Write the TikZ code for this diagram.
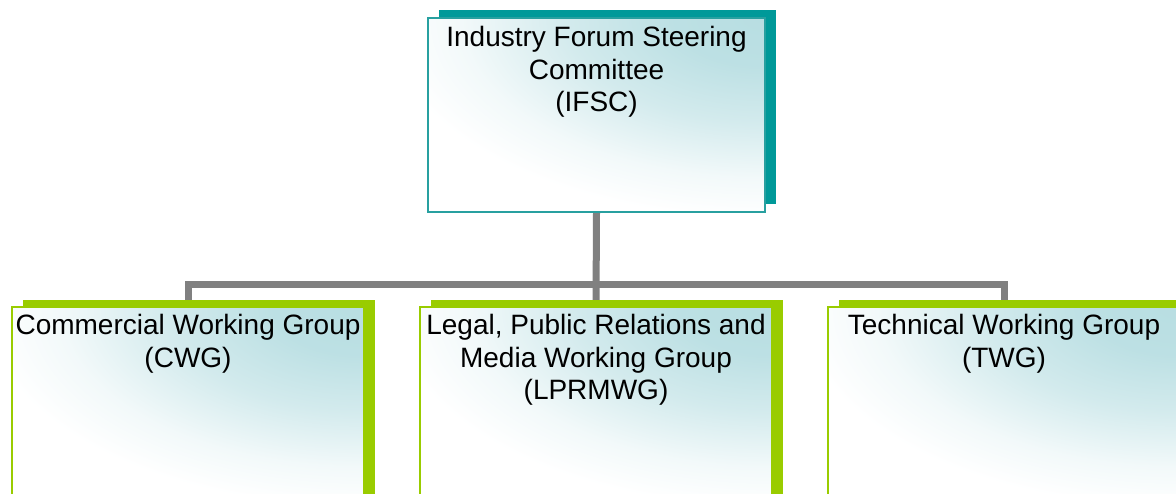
\documentclass[tikz,border=0pt]{standalone}
\usepackage{fontspec}
\setmainfont{Liberation Sans}
\usetikzlibrary{shadows}
\definecolor{shadowteal}{RGB}{0,153,153}
\definecolor{edgeteal}{RGB}{40,160,160}
\definecolor{leafgreen}{RGB}{153,204,0}
\definecolor{glow}{RGB}{184,222,226}
\definecolor{linkgray}{RGB}{128,128,128}
% soft tint spreading from the top right corner of each box;
% the tint is gone well inside the rim of the shaded ellipse
\pgfdeclareradialshading{cornerglow}{\pgfpoint{0bp}{0bp}}{%
  color(0bp)=(glow); color(3bp)=(glow!94!white);
  color(6.5bp)=(glow!62!white); color(10bp)=(glow!18!white);
  color(12.5bp)=(white); color(50bp)=(white)}
\pgfdeclarelayer{paper}
\pgfdeclarelayer{links}
\pgfsetlayers{paper,links,main}
\tikzset{
  box/.style={rectangle, inner sep=0pt, line width=1.5pt, fill=white,
    path picture={\shade[shading=cornerglow]
      (path picture bounding box.north east) ellipse (760pt and 400pt);}},
  topbox/.style={box, draw=edgeteal, minimum width=337pt, minimum height=194pt,
    general shadow={fill=shadowteal, shadow xshift=11pt, shadow yshift=8pt}},
  groupbox/.style={box, draw=leafgreen, minimum width=352pt, minimum height=200pt,
    general shadow={fill=leafgreen, shadow xshift=11pt, shadow yshift=7pt}},
  caption/.style={anchor=north, inner sep=0pt, align=center, text=black,
    font={\fontsize{28pt}{32.5pt}\selectfont}},
  link/.style={draw=linkgray, line width=7pt}
}
\begin{document}
\begin{tikzpicture}[x=1pt, y=-1pt]
\begin{pgfonlayer}{paper}
\fill[white] (0,0) rectangle (1176,493);
\end{pgfonlayer}
\path[use as bounding box, clip] (0,0) rectangle (1176,493);

% boxes
\node[topbox] (ifsc) at (596.5,115) {};
\node[groupbox] (cwg) at (188,407) {};
\node[groupbox] (lprmwg) at (596,407) {};
\node[groupbox] (twg) at (1004,407) {};

% captions
\node[caption] (ifsct) at ([yshift=-9pt]ifsc.north) {Industry Forum Steering\\Committee\\(IFSC)};
\node[caption] (cwgt) at ([yshift=-8pt]cwg.north) {Commercial Working Group\\(CWG)};
\node[caption] (lprmwgt) at ([yshift=-8pt]lprmwg.north) {Legal, Public Relations and\\Media Working Group\\(LPRMWG)};
\node[caption] (twgt) at ([yshift=-8pt]twg.north) {Technical Working Group\\(TWG)};

% connectors, underneath the boxes
\coordinate (bus) at (597,284);
\begin{pgfonlayer}{links}
\draw[link] (ifsc.south) -- (lprmwg.north);
\draw[link] (cwg.north) |- (bus) -| (twg.north);
\end{pgfonlayer}
\end{tikzpicture}
\end{document}
